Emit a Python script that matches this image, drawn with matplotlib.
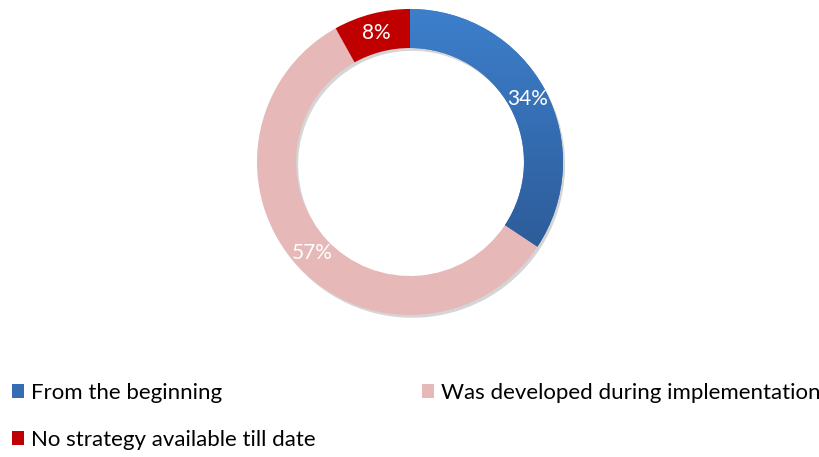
import matplotlib
matplotlib.use("Agg")
import matplotlib.pyplot as plt
import matplotlib.patheffects as pe
import numpy as np
from matplotlib.patches import Rectangle
from matplotlib.colors import LinearSegmentedColormap

categories = ["From the beginning", "Was developed during implementation", "No strategy available till date"]
values = [34, 57, 8]
labels = ["34%", "57%", "8%"]
colors = ["#3a7cc9", "#e6b8b7", "#c00000"]

plt.rcParams['font.family'] = ['Lato', 'DejaVu Sans']

W, H = 819, 457
fig = plt.figure(figsize=(W / 100, H / 100), dpi=100)
ax = fig.add_axes([257 / W, 142 / H, 306 / W, 306 / H])

wedges, _ = ax.pie(values, colors=colors, startangle=90, counterclock=False,
                   radius=1.0, wedgeprops=dict(width=0.255, edgecolor='none'))

for w in wedges:
    w.set_path_effects([pe.SimplePatchShadow(offset=(1.5, -2), shadow_rgbFace='#888888', alpha=0.35),
                        pe.Normal()])

# gradient on blue wedge (lighter at top, darker at bottom)
grad = np.linspace(0, 1, 256).reshape(-1, 1)
cmap = LinearSegmentedColormap.from_list("b", ["#3d7fcc", "#2d5b98"])
im = ax.imshow(grad, cmap=cmap, extent=[0, 1, -0.6, 1], aspect='auto', zorder=3,
               origin='upper')
im.set_clip_path(wedges[0])

# labels at ring middle
total = sum(values)
cum = 0
for v, lab in zip(values, labels):
    mid = (cum + v / 2) / total * 2 * np.pi
    r = 0.872
    x, y = r * np.sin(mid), r * np.cos(mid)
    ax.text(x, y, lab, ha='center', va='center', color='white', fontsize=15, zorder=5)
    cum += v

ax.set_xlim(-1, 1)
ax.set_ylim(-1, 1)
ax.set_aspect('equal')
ax.axis('off')

# legend
order = [0, 2, 1]
handles = [Rectangle((0, 0), 1, 1, facecolor=(cmap(0.5) if i == 0 else colors[i])) for i in order]
leg = fig.legend(handles, [categories[i] for i in order], ncol=2, loc='upper left',
                 bbox_to_anchor=(12 / W, 1 - 383 / H), frameon=False, fontsize=16,
                 handlelength=0.55, handleheight=0.55, handletextpad=0.3,
                 columnspacing=4.8, labelspacing=1.2, borderpad=0, borderaxespad=0)

fig.savefig("out.png", dpi=100)
